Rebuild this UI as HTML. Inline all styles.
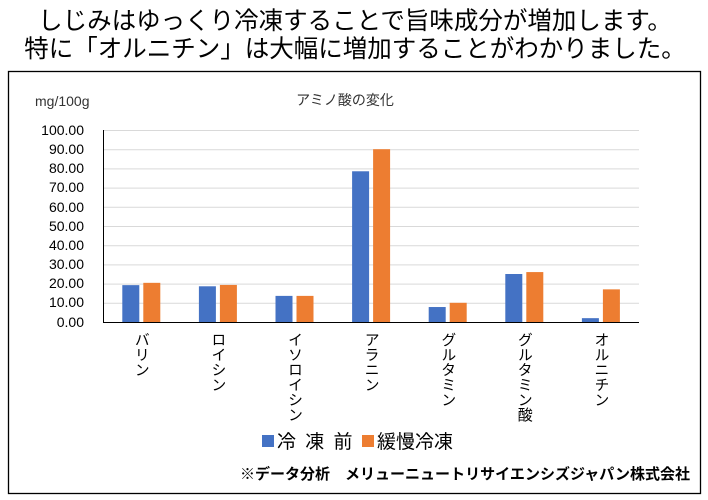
<!DOCTYPE html>
<html><head><meta charset="utf-8"><style>
body{margin:0;width:708px;height:500px;background:#fff;overflow:hidden;font-family:"Liberation Sans","Noto Sans CJK JP",sans-serif;}
.t{position:absolute;left:0;width:708px;text-align:center;font-size:24.5px;color:#000;white-space:nowrap;line-height:28px;}
</style></head><body>
<div class="t" style="top:8px;left:1px">しじみはゆっくり冷凍することで旨味成分が増加します。</div>
<div class="t" style="top:36px;left:1px">特に「オルニチン」は大幅に増加することがわかりました。</div>
<svg width="708" height="500" style="position:absolute;left:0;top:0" font-family="Liberation Sans, Noto Sans CJK JP, sans-serif">
<rect x="8.5" y="71.5" width="692" height="422" fill="none" stroke="#000" stroke-width="1.3"/>
<text x="35" y="106" font-size="14" fill="#333">mg/100g</text>
<text x="345" y="105" font-size="14" fill="#333" text-anchor="middle">アミノ酸の変化</text>
<g stroke="#d9d9d9" stroke-width="1">
<line x1="103" x2="639" y1="130.5" y2="130.5"/><line x1="103" x2="639" y1="149.7" y2="149.7"/><line x1="103" x2="639" y1="168.9" y2="168.9"/><line x1="103" x2="639" y1="188.1" y2="188.1"/><line x1="103" x2="639" y1="207.3" y2="207.3"/><line x1="103" x2="639" y1="226.5" y2="226.5"/><line x1="103" x2="639" y1="245.7" y2="245.7"/><line x1="103" x2="639" y1="264.9" y2="264.9"/><line x1="103" x2="639" y1="284.1" y2="284.1"/><line x1="103" x2="639" y1="303.3" y2="303.3"/>
</g>
<g font-size="14" fill="#000" text-anchor="end">
<text x="84" y="135">100.00</text><text x="84" y="154">90.00</text><text x="84" y="173">80.00</text><text x="84" y="192">70.00</text><text x="84" y="212">60.00</text><text x="84" y="231">50.00</text><text x="84" y="250">40.00</text><text x="84" y="269">30.00</text><text x="84" y="288">20.00</text><text x="84" y="307">10.00</text><text x="84" y="327">0.00</text>
</g>
<g id="bars"></g>
<line x1="103.5" x2="103.5" y1="130" y2="322.5" stroke="#000"/>
<line x1="103" x2="639" y1="322.5" y2="322.5" stroke="#000"/>
<g font-size="15" fill="#000" style="writing-mode:vertical-rl" id="labs"></g>
<rect x="262" y="435" width="12" height="12" fill="#4472c4"/>
<text x="277" y="448" font-size="19" fill="#000" letter-spacing="2">冷 凍 前</text>
<rect x="362" y="435" width="12" height="12" fill="#ed7d31"/>
<text x="377" y="448" font-size="19" fill="#000">緩慢冷凍</text>
<text x="240" y="479" font-size="15" font-weight="bold" fill="#000" textLength="450" lengthAdjust="spacingAndGlyphs">※データ分析　メリューニュートリサイエンシズジャパン株式会社</text>
</svg>
<script>
var v=[[19.2,20.4],[18.6,19.3],[13.6,13.6],[78.5,90],[7.8,10],[25,26],[2,17]];
var n=["バリン","ロイシン","イソロイシン","アラニン","グルタミン","グルタミン酸","オルニチン"];
var b=document.getElementById("bars"),l=document.getElementById("labs"),s="";var t="";
for(var i=0;i<7;i++){var c=141.3+i*76.6;
var h0=v[i][0]*1.92,h1=v[i][1]*1.92;
s+='<rect x="'+(c-19)+'" y="'+(322-h0)+'" width="17" height="'+h0+'" fill="#4472c4"/>';
s+='<rect x="'+(c+2)+'" y="'+(322-h1)+'" width="17" height="'+h1+'" fill="#ed7d31"/>';
t+='<text x="'+(c)+'" y="332">'+n[i]+'</text>';}
b.innerHTML=s;l.innerHTML=t;
</script>
</body></html>
